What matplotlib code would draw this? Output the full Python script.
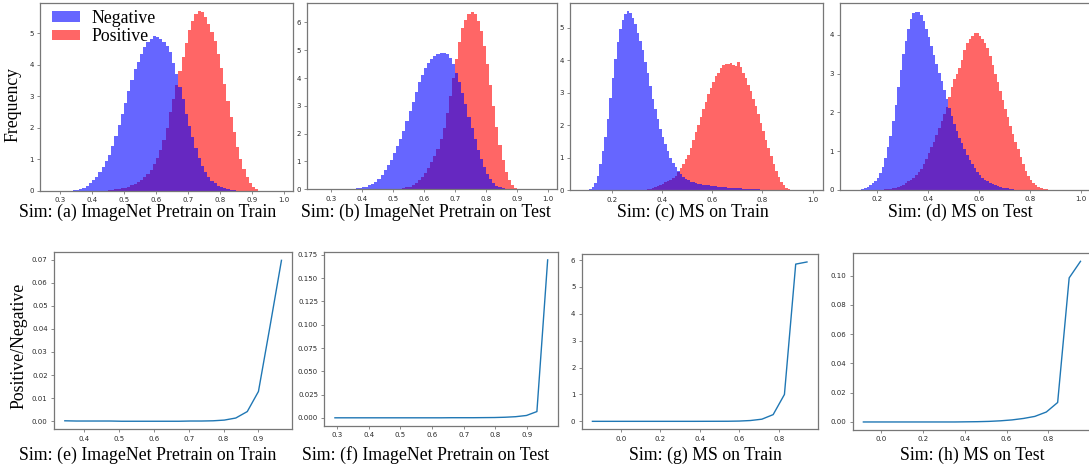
import numpy as np
import matplotlib
matplotlib.use("Agg")
import matplotlib.pyplot as plt
from matplotlib.ticker import MultipleLocator

# ---------------- data ----------------
BIN = 0.01  # histogram bin width (density histograms)

neg_a_start = 0.34
neg_a = [0.01, 0.03, 0.05, 0.09, 0.15, 0.25, 0.35, 0.45, 0.58, 0.75, 0.95, 1.12, 1.42, 1.75,
         2.1, 2.45, 2.8, 3.15, 3.5, 3.85, 4.1, 4.35, 4.55, 4.72, 4.83, 4.9, 4.88, 4.82, 4.72,
         4.58, 4.4, 4.05, 3.7, 3.3, 2.9, 2.45, 2.05, 1.7, 1.35, 1.05, 0.8, 0.6, 0.45, 0.32,
         0.23, 0.16, 0.11, 0.07, 0.04, 0.02, 0.01]
pos_a_start = 0.45
pos_a = [0.01, 0.02, 0.04, 0.06, 0.08, 0.1, 0.13, 0.17, 0.22, 0.28, 0.34, 0.42, 0.52, 0.66,
         0.85, 1.05, 1.3, 1.6, 2.0, 2.5, 2.9, 3.35, 3.8, 4.25, 4.7, 5.1, 5.4, 5.6, 5.7, 5.66,
         5.52, 5.3, 5.05, 4.75, 4.35, 3.9, 3.4, 2.85, 2.35, 1.85, 1.4, 1.0, 0.68, 0.43, 0.25,
         0.12, 0.04]

neg_b_start = 0.36
neg_b = [0.01, 0.02, 0.03, 0.05, 0.07, 0.1, 0.14, 0.2, 0.28, 0.38, 0.52, 0.68, 0.86, 1.06,
         1.3, 1.55, 1.82, 2.1, 2.45, 2.8, 3.15, 3.5, 3.85, 4.1, 4.35, 4.55, 4.68, 4.78, 4.85,
         4.9, 4.9, 4.85, 4.72, 4.5, 4.2, 3.85, 3.45, 3.05, 2.6, 2.2, 1.8, 1.42, 1.08, 0.8,
         0.56, 0.37, 0.23, 0.13, 0.07, 0.03, 0.01]
pos_b_start = 0.52
pos_b = [0.02, 0.04, 0.07, 0.1, 0.15, 0.22, 0.32, 0.45, 0.6, 0.78, 0.98, 1.2, 1.45, 1.8,
         2.2, 2.75, 3.35, 4.0, 4.7, 5.3, 5.8, 6.1, 6.3, 6.38, 6.3, 6.05, 5.7, 5.15, 4.5,
         3.75, 3.0, 2.25, 1.6, 1.05, 0.63, 0.33, 0.15, 0.05, 0.01]

neg_c_start = 0.10
neg_c = [0.01, 0.04, 0.1, 0.22, 0.45, 0.8, 1.2, 1.65, 2.2, 2.85, 3.45, 4.05, 4.55, 4.95,
         5.25, 5.42, 5.5, 5.45, 5.3, 5.1, 4.85, 4.6, 4.3, 3.95, 3.6, 3.2, 2.82, 2.5, 2.2,
         1.9, 1.65, 1.42, 1.2, 1.0, 0.85, 0.72, 0.6, 0.5, 0.42, 0.36, 0.31, 0.27, 0.24, 0.22,
         0.2, 0.19, 0.17, 0.16, 0.15, 0.14, 0.13, 0.12, 0.11, 0.1, 0.095, 0.09, 0.085, 0.08,
         0.075, 0.07, 0.065, 0.06, 0.055, 0.05, 0.045, 0.04, 0.035, 0.03, 0.025, 0.02,
         0.015, 0.01, 0.005]
pos_c_start = 0.30
pos_c = [0.005, 0.01, 0.015, 0.02, 0.03, 0.05, 0.07, 0.1, 0.13, 0.16, 0.2, 0.24, 0.28, 0.33,
         0.38, 0.45, 0.55, 0.68, 0.8, 0.95, 1.1, 1.3, 1.55, 1.78, 2.0, 2.25, 2.5, 2.72, 2.95,
         3.15, 3.32, 3.5, 3.62, 3.75, 3.84, 3.88, 3.88, 3.9, 3.85, 3.82, 3.95, 3.78, 3.62,
         3.45, 3.25, 3.05, 2.82, 2.6, 2.35, 2.08, 1.82, 1.55, 1.3, 1.05, 0.8, 0.6, 0.42,
         0.27, 0.16, 0.08, 0.03, 0.01]

neg_d_start = 0.13
neg_d = [0.01, 0.03, 0.05, 0.08, 0.13, 0.18, 0.24, 0.32, 0.45, 0.6, 0.82, 1.1, 1.4, 1.78,
         2.2, 2.65, 3.1, 3.5, 3.85, 4.15, 4.4, 4.55, 4.6, 4.58, 4.5, 4.35, 4.15, 3.95, 3.72,
         3.48, 3.25, 3.02, 2.8, 2.57, 2.35, 2.12, 1.9, 1.7, 1.52, 1.35, 1.2, 1.05, 0.9, 0.78,
         0.67, 0.56, 0.47, 0.39, 0.32, 0.27, 0.22, 0.18, 0.15, 0.12, 0.1, 0.08, 0.06, 0.05,
         0.04, 0.03, 0.02, 0.01]
pos_d_start = 0.22
pos_d = [0.01, 0.015, 0.02, 0.03, 0.045, 0.06, 0.08, 0.11, 0.14, 0.18, 0.22, 0.27, 0.32,
         0.38, 0.46, 0.55, 0.66, 0.8, 0.95, 1.1, 1.25, 1.42, 1.6, 1.78, 1.95, 2.15, 2.4, 2.65,
         2.85, 3.0, 3.15, 3.35, 3.6, 3.78, 3.9, 3.98, 4.05, 4.05, 3.98, 3.9, 3.8, 3.65, 3.45,
         3.22, 3.0, 2.78, 2.55, 2.32, 2.1, 1.88, 1.65, 1.45, 1.25, 1.05, 0.85, 0.67, 0.5,
         0.37, 0.26, 0.18, 0.12, 0.08, 0.05, 0.03, 0.02, 0.01]

# Positive/Negative ratio curves
sim_e = [0.345, 0.378, 0.410, 0.443, 0.476, 0.508, 0.541, 0.574, 0.606, 0.639, 0.672, 0.704,
         0.737, 0.770, 0.802, 0.835, 0.868, 0.900, 0.933, 0.966]
ratio_e = [0.0002, 0.0001, 0.0001, 0.0001, 0.0001, 0.0, 0.0, 0.0, 0.0, 0.0, 0.0, 0.0001,
           0.0001, 0.0002, 0.0005, 0.0014, 0.0042, 0.0129, 0.041, 0.0697]

sim_f = [0.293, 0.326, 0.360, 0.393, 0.427, 0.461, 0.494, 0.528, 0.562, 0.595, 0.629, 0.662,
         0.696, 0.730, 0.763, 0.797, 0.830, 0.864, 0.898, 0.931, 0.965]
ratio_f = [0.0, 0.0, 0.0, 0.0, 0.0, 0.0, 0.0, 0.0, 0.0, 0.0, 0.0, 0.0001, 0.0001, 0.0001,
           0.0002, 0.0003, 0.0006, 0.0012, 0.0025, 0.0067, 0.1697]

sim_g = [-0.143, -0.086, -0.029, 0.028, 0.085, 0.142, 0.200, 0.257, 0.314, 0.371, 0.428,
         0.485, 0.542, 0.599, 0.656, 0.714, 0.771, 0.828, 0.885, 0.942]
ratio_g = [0.0, 0.0, 0.0, 0.0, 0.0, 0.0, 0.0, 0.0, 0.0, 0.0, 0.001, 0.002, 0.003, 0.01, 0.03,
           0.08, 0.25, 1.0, 5.85, 5.93]

sim_h = [-0.083, -0.028, 0.026, 0.081, 0.135, 0.190, 0.245, 0.299, 0.354, 0.408, 0.463,
         0.517, 0.572, 0.626, 0.681, 0.735, 0.790, 0.844, 0.899, 0.953]
ratio_h = [0.0, 0.0, 0.0, 0.0, 0.0, 0.0, 0.0, 0.0, 0.0, 0.0001, 0.0002, 0.0004, 0.0008,
           0.0014, 0.0024, 0.0038, 0.0068, 0.0133, 0.0984, 0.1097]

top_captions = ["Sim: (a) ImageNet Pretrain on Train", "Sim: (b) ImageNet Pretrain on Test",
                "Sim: (c) MS on Train", "Sim: (d) MS on Test"]
bottom_captions = ["Sim: (e) ImageNet Pretrain on Train", "Sim: (f) ImageNet Pretrain on Test",
                   "Sim: (g) MS on Train", "Sim: (h) MS on Test"]
legend_labels = ["Negative", "Positive"]

# ---------------- figure ----------------
W, H = 1089, 473
fig = plt.figure(figsize=(W / 100, H / 100), dpi=100)
SERIF = ["Liberation Serif", "DejaVu Serif"]
CAP_FS = 12.8
TICK_FS = 5.0


def px_axes(l, t, r, b):
    return fig.add_axes([l / W, 1 - b / H, (r - l) / W, (b - t) / H])


def style(ax):
    for s in ax.spines.values():
        s.set_color("#777777")
        s.set_linewidth(0.9)
    ax.tick_params(labelsize=TICK_FS, length=2.5, width=0.6, pad=2.0,
                   colors="#777777", labelcolor="#2a2a2a")


def hist(ax, start, vals, color):
    vals = np.asarray(vals, dtype=float)
    edges = start + BIN * np.arange(len(vals) + 1)
    return ax.stairs(vals, edges, fill=True, color=color, alpha=0.6, linewidth=0)


hist_specs = [
    ((40, 3, 293, 190.7), (neg_a_start, neg_a), (pos_a_start, pos_a), (0.2375, 1.028), 5.96, 0.1, 1),
    ((307, 3, 557, 189.3), (neg_b_start, neg_b), (pos_b_start, pos_b), (0.2226, 1.029), 6.7, 0.1, 1),
    ((570, 3.3, 823, 190.3), (neg_c_start, neg_c), (pos_c_start, pos_c), (0.034, 1.041), 5.75, 0.2, 1),
    ((840, 3, 1091, 190), (neg_d_start, neg_d), (pos_d_start, pos_d), (0.056, 1.04), 4.82, 0.2, 1),
]

hist_axes = []
for box, neg, pos, xl, ytop, xstep, ystep in hist_specs:
    ax = px_axes(*box)
    hp = hist(ax, pos[0], pos[1], "red")
    hn = hist(ax, neg[0], neg[1], "blue")
    ax.set_xlim(*xl)
    ax.set_ylim(0, ytop)
    ax.xaxis.set_major_locator(MultipleLocator(xstep))
    ax.yaxis.set_major_locator(MultipleLocator(ystep))
    style(ax)
    hist_axes.append((ax, hn, hp))

ax0, hn0, hp0 = hist_axes[0]
ax0.legend([hn0, hp0], legend_labels, loc="upper left", bbox_to_anchor=(0.046, 0.965),
           frameon=False, prop={"family": SERIF, "size": CAP_FS}, handlelength=1.6,
           handleheight=0.55, handletextpad=0.65, labelspacing=0.1, borderpad=0,
           borderaxespad=0)

line_specs = [
    ((54, 252.3, 292.3, 429.3), sim_e, ratio_e, 0.1, 0.01, None),
    ((324.3, 252, 558.3, 425.7), sim_f, ratio_f, 0.1, 0.025, None),
    ((581.7, 254, 817.7, 429.3), sim_g, ratio_g, 0.2, 1, None),
    ((852.7, 253.3, 1089.5, 430), sim_h, ratio_h, 0.2, 0.02, (-0.134, 0.996)),
]
for box, xs, ys, xstep, ystep, xl in line_specs:
    ax = px_axes(*box)
    ax.plot(xs, ys, color="#1f77b4", linewidth=1.0)
    if xl is not None:
        ax.set_xlim(*xl)
    ax.xaxis.set_major_locator(MultipleLocator(xstep))
    ax.yaxis.set_major_locator(MultipleLocator(ystep))
    style(ax)

# captions (subfigure captions, Times-like)
top_x = [148, 426, 693, 960]
bot_x = [148, 426, 705.5, 972.5]
for x, txt in zip(top_x, top_captions):
    fig.text(x / W, 1 - 212 / H, txt, ha="center", va="center", family=SERIF, fontsize=CAP_FS)
for x, txt in zip(bot_x, bottom_captions):
    fig.text(x / W, 1 - 455 / H, txt, ha="center", va="center", family=SERIF, fontsize=CAP_FS)

fig.text(13.3 / W, 1 - 105 / H, "Frequency", rotation=90, ha="center", va="center",
         family=SERIF, fontsize=CAP_FS)
fig.text(18.8 / W, 1 - 346 / H, "Positive/Negative", rotation=90, ha="center", va="center",
         family=SERIF, fontsize=CAP_FS)

fig.savefig("out.png", dpi=100)
